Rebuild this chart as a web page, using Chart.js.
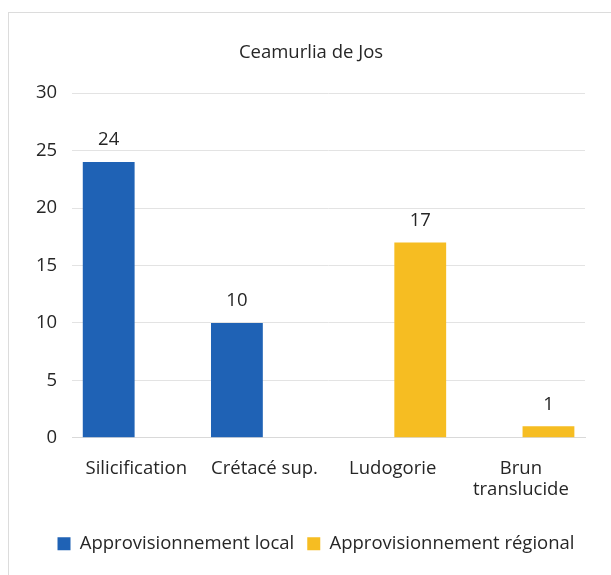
<!DOCTYPE html>
<html>
<head>
<meta charset="utf-8">
<script src="https://cdn.jsdelivr.net/npm/chart.js@4/dist/chart.umd.min.js"></script>
<style>
  html, body { margin: 0; padding: 0; background: #fff; }
  #frame {
    position: absolute; left: 8px; top: 12px; width: 603px; height: 563px;
    border: 1px solid #dcdcdc; border-right: none; border-bottom: none; box-sizing: border-box;
  }
  #wrap { position: absolute; left: 9px; top: 13px; width: 600px; height: 560px; }
</style>
</head>
<body>
<div id="frame"></div>
<div id="wrap"><canvas id="canvas"></canvas></div>
<script>
const categories = ["Silicification", "Crétacé sup.", "Ludogorie", ["Brun", "translucide"]];
const localValues = [24, 10, null, null];
const regionalValues = [null, null, 17, 1];
const seriesNames = ["Approvisionnement local", "Approvisionnement régional"];
const yTicks = [0, 5, 10, 15, 20, 25, 30];

const fontFamily = "'Open Sans', 'Liberation Sans', sans-serif";
const fontSize = 18.5;
const textColor = "#262626";

// values drawn over the bars
const valueLabels = {
  id: "valueLabels",
  afterDatasetsDraw(chart) {
    const ctx = chart.ctx;
    ctx.save();
    ctx.font = fontSize + "px " + fontFamily;
    ctx.fillStyle = textColor;
    ctx.textAlign = "center";
    ctx.textBaseline = "middle";
    chart.data.datasets.forEach((ds, i) => {
      chart.getDatasetMeta(i).data.forEach((bar, j) => {
        if (ds.data[j] == null) return;
        ctx.fillText(ds.data[j], bar.x, bar.y - 22);
      });
    });
    ctx.restore();
  },
};

// title and legend sit a bit right of centre in the original
const nudgeBoxes = {
  id: "nudgeBoxes",
  afterLayout(chart) {
    if (chart.titleBlock) {
      chart.titleBlock.left += 8;
      chart.titleBlock.right += 8;
    }
    if (chart.legend) {
      chart.legend.left += 13;
      chart.legend.right += 13;
    }
  },
};

const chart = new Chart(document.querySelector("#canvas").getContext("2d"), {
  type: "bar",
  data: {
    labels: categories,
    datasets: [
      {
        label: seriesNames[0],
        data: localValues,
        backgroundColor: "#1f62b5",
        categoryPercentage: 0.86,
        barPercentage: 0.94,
      },
      {
        label: seriesNames[1],
        data: regionalValues,
        backgroundColor: "#f6bd22",
        categoryPercentage: 0.86,
        barPercentage: 0.94,
      },
    ],
  },
  options: {
    responsive: true,
    maintainAspectRatio: false,
    animation: false,
    layout: { padding: { left: 12, right: 24, top: 14, bottom: 10 } },
    plugins: {
      title: {
        display: true,
        text: "Ceamurlia de Jos",
        color: textColor,
        font: { family: fontFamily, size: fontSize, weight: "normal" },
        padding: { top: 15, bottom: 29 },
      },
      legend: {
        position: "bottom",
        labels: {
          color: textColor,
          font: { family: fontFamily, size: fontSize },
          boxWidth: 13,
          boxHeight: 13,
          padding: 13,
        },
      },
      tooltip: { enabled: false },
    },
    scales: {
      x: {
        grid: { display: false },
        border: { color: "#d9d9d9" },
        afterFit: (scale) => { scale.height += 9; },
        ticks: {
          color: textColor,
          font: { family: fontFamily, size: fontSize, lineHeight: 1.1 },
          maxRotation: 0,
          padding: 13,
        },
      },
      y: {
        min: 0,
        max: 30,
        afterBuildTicks: (axis) => { axis.ticks = yTicks.map((v) => ({ value: v })); },
        grid: { color: "#e3e3e3", drawTicks: false },
        border: { display: false },
        ticks: {
          color: textColor,
          font: { family: fontFamily, size: fontSize },
          padding: 15,
        },
      },
    },
  },
  plugins: [valueLabels, nudgeBoxes],
});
</script>
</body>
</html>
